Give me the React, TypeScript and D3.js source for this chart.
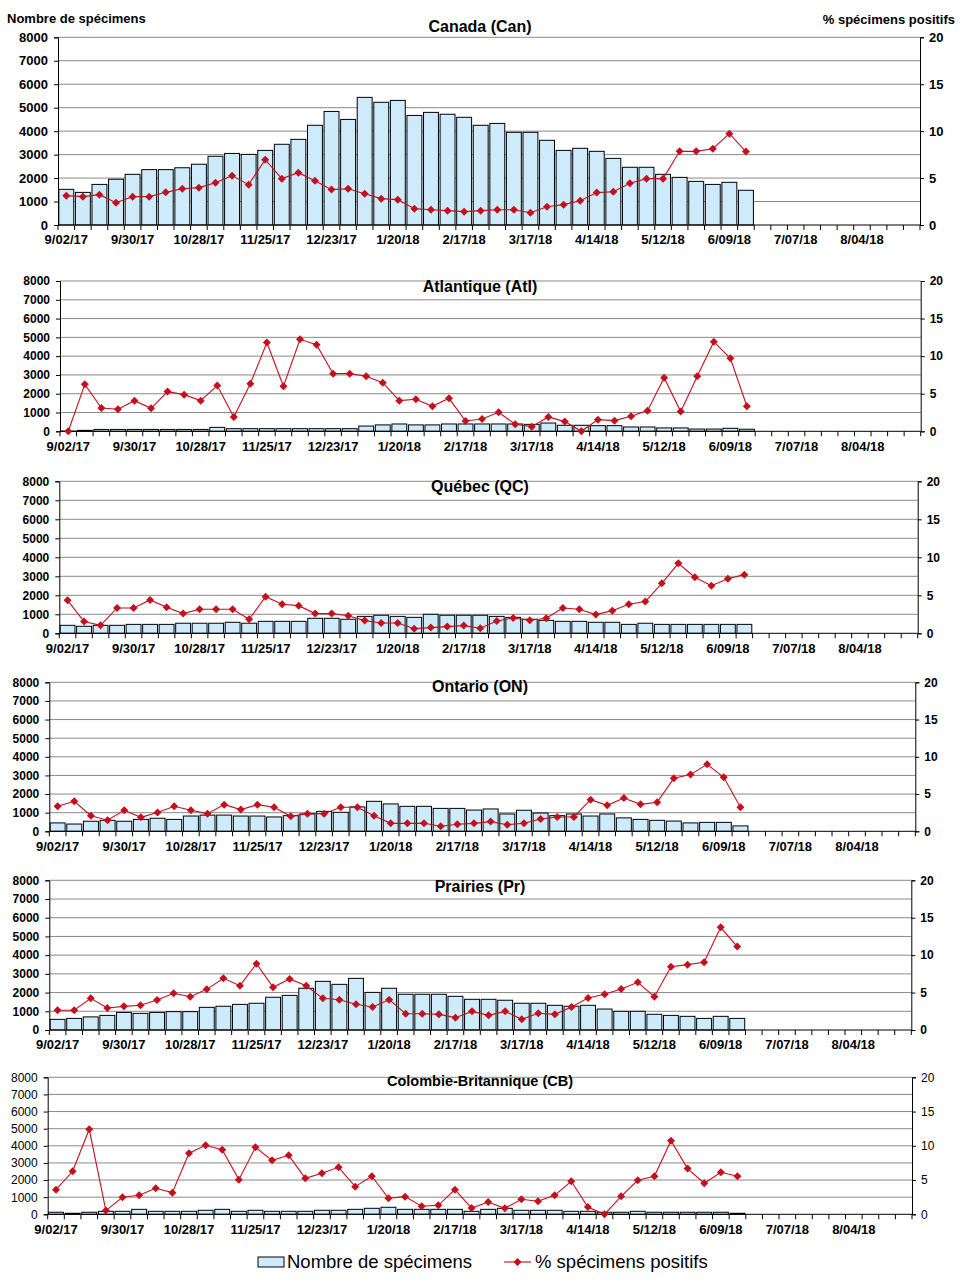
import { useEffect, useRef } from "react";
import * as d3 from "d3";

const weeks = [
  "9/02/17", "9/09/17", "9/16/17", "9/23/17", "9/30/17", "10/07/17", "10/14/17", "10/21/17",
  "10/28/17", "11/04/17", "11/11/17", "11/18/17", "11/25/17", "12/02/17", "12/09/17", "12/16/17",
  "12/23/17", "12/30/17", "1/06/18", "1/13/18", "1/20/18", "1/27/18", "2/03/18", "2/10/18",
  "2/17/18", "2/24/18", "3/03/18", "3/10/18", "3/17/18", "3/24/18", "3/31/18", "4/07/18",
  "4/14/18", "4/21/18", "4/28/18", "5/05/18", "5/12/18", "5/19/18", "5/26/18", "6/02/18",
  "6/09/18", "6/16/18", "6/23/18", "6/30/18", "7/07/18", "7/14/18", "7/21/18", "7/28/18",
  "8/04/18", "8/11/18", "8/18/18", "8/25/18",
];
const tickLabels = weeks.filter((_, i) => i % 4 === 0);
const countTicks = [0, 1000, 2000, 3000, 4000, 5000, 6000, 7000, 8000];
const pctTicks = [0, 5, 10, 15, 20];

const titles = ["Canada (Can)", "Atlantique (Atl)", "Québec (QC)", "Ontario (ON)", "Prairies (Pr)", "Colombie-Britannique (CB)"];

const canCounts = [1520, 1390, 1730, 1950, 2160, 2360, 2360, 2440, 2590, 2930, 3050, 3010, 3180, 3440, 3650, 4250, 4840, 4500, 5440, 5230, 5310, 4670, 4800, 4720, 4590, 4250, 4330, 3950, 3950, 3610, 3180, 3270, 3140, 2840, 2460, 2460, 2160, 2030, 1860, 1730, 1820, 1480];
const canPct = [3.13, 3.02, 3.23, 2.38, 3.02, 3.02, 3.48, 3.87, 3.98, 4.51, 5.26, 4.3, 6.96, 4.94, 5.58, 4.72, 3.77, 3.87, 3.34, 2.81, 2.7, 1.74, 1.63, 1.53, 1.42, 1.53, 1.63, 1.63, 1.31, 1.95, 2.17, 2.59, 3.45, 3.55, 4.44, 4.94, 4.94, 7.85, 7.85, 8.13, 9.73, 7.82];

const atlCounts = [10, 50, 100, 100, 100, 100, 100, 100, 100, 210, 140, 140, 140, 140, 140, 140, 140, 140, 280, 340, 390, 340, 340, 390, 390, 390, 390, 390, 370, 440, 320, 320, 300, 300, 230, 230, 180, 180, 120, 120, 160, 110];
const atlPct = [0, 6.25, 3.1, 2.93, 4.08, 3.06, 5.28, 4.88, 4.08, 6.08, 1.91, 6.34, 11.8, 5.99, 12.24, 11.53, 7.67, 7.67, 7.32, 6.47, 4.08, 4.26, 3.33, 4.39, 1.37, 1.64, 2.53, 0.93, 0.62, 1.91, 1.29, 0, 1.55, 1.42, 2.0, 2.75, 7.14, 2.62, 7.32, 11.93, 9.71, 3.33];

const qcCounts = [420, 370, 420, 420, 470, 470, 470, 530, 530, 530, 580, 530, 630, 630, 630, 790, 790, 740, 890, 950, 890, 840, 1000, 950, 950, 950, 890, 840, 740, 680, 630, 630, 580, 580, 470, 530, 470, 470, 470, 470, 470, 470];
const qcPct = [4.34, 1.54, 1.05, 3.33, 3.33, 4.39, 3.42, 2.59, 3.16, 3.16, 3.16, 1.84, 4.82, 3.82, 3.64, 2.59, 2.59, 2.32, 1.67, 1.36, 1.36, 0.61, 0.75, 0.88, 1.01, 0.66, 1.62, 2.02, 1.71, 1.97, 3.33, 3.16, 2.46, 2.98, 3.82, 4.17, 6.58, 9.21, 7.37, 6.27, 7.19, 7.72];

const onCounts = [450, 390, 540, 590, 540, 640, 700, 640, 820, 870, 870, 820, 820, 770, 840, 930, 1070, 1020, 1310, 1610, 1470, 1340, 1340, 1230, 1230, 1140, 1200, 930, 1130, 980, 840, 930, 820, 930, 720, 640, 590, 550, 450, 480, 480, 290];
const onPct = [3.36, 4.03, 2.1, 1.48, 2.82, 1.88, 2.51, 3.36, 2.82, 2.37, 3.58, 2.91, 3.58, 3.22, 2.01, 2.37, 2.37, 3.22, 3.22, 2.1, 1.07, 1.07, 1.07, 0.67, 0.94, 1.07, 1.3, 0.89, 1.07, 1.66, 1.92, 1.92, 4.25, 3.49, 4.47, 3.62, 3.89, 7.11, 7.61, 8.99, 7.25, 3.22];

const prCounts = [570, 620, 700, 780, 940, 890, 940, 980, 980, 1210, 1270, 1370, 1430, 1750, 1850, 2230, 2600, 2440, 2760, 2010, 2230, 1910, 1910, 1910, 1800, 1640, 1640, 1590, 1430, 1430, 1320, 1270, 1320, 1120, 1000, 1000, 840, 780, 730, 620, 730, 620];
const prPct = [2.63, 2.63, 4.23, 2.94, 3.16, 3.3, 4.01, 4.9, 4.45, 5.43, 6.9, 5.92, 8.86, 5.7, 6.82, 5.92, 4.23, 4.05, 3.43, 3.07, 4.05, 2.18, 2.18, 2.09, 1.65, 2.49, 1.96, 2.49, 1.43, 2.23, 2.09, 3.07, 4.28, 4.77, 5.48, 6.37, 4.45, 8.46, 8.73, 9.04, 13.72, 11.14];

const cbCounts = [120, 60, 120, 175, 175, 290, 175, 175, 175, 235, 290, 175, 235, 175, 175, 175, 235, 235, 290, 350, 410, 290, 290, 290, 290, 175, 290, 350, 235, 235, 235, 175, 175, 120, 120, 175, 120, 120, 120, 120, 120, 60];
const cbPct = [3.6, 6.28, 12.41, 0.54, 2.48, 2.77, 3.8, 3.16, 8.91, 10.07, 9.44, 5.06, 9.78, 7.88, 8.61, 5.26, 5.99, 6.86, 4.04, 5.55, 2.34, 2.58, 1.17, 1.31, 3.6, 0.92, 1.8, 0.88, 2.19, 1.9, 2.77, 4.82, 1.07, 0, 2.63, 4.96, 5.55, 10.75, 6.67, 4.53, 6.13, 5.55];

const allCounts = [canCounts, atlCounts, qcCounts, onCounts, prCounts, cbCounts];
const allPct = [canPct, atlPct, qcPct, onPct, prPct, cbPct];

// panel boxes, in page pixels
const boxes = [
  { l: 58, r: 920, t: 37.3, b: 225, ty: 26, yFont: 13, yWeight: "bold", tFont: 16 },
  { l: 60, r: 920.7, t: 281, b: 431.3, ty: 286, yFont: 12, yWeight: "bold", tFont: 16 },
  { l: 59.3, r: 917.7, t: 481.3, b: 633.3, ty: 486, yFont: 12, yWeight: "bold", tFont: 16 },
  { l: 49.3, r: 915.3, t: 682.3, b: 831.3, ty: 686.5, yFont: 12, yWeight: "bold", tFont: 16 },
  { l: 49.3, r: 911.3, t: 880.3, b: 1030, ty: 886, yFont: 12, yWeight: "bold", tFont: 16 },
  { l: 47.7, r: 912, t: 1077.3, b: 1214.3, ty: 1081, yFont: 12, yWeight: "normal", tFont: 14.5 },
];

const FONT = "'Liberation Sans', Arial, sans-serif";
const BAR = "#cdebfb";
const RED = "#c40f1c";

export default function App() {
  const ref = useRef<SVGSVGElement>(null);

  useEffect(() => {
    if (!ref.current) return;
    const svg = d3.select(ref.current);
    svg.selectAll("*").remove();
    svg.append("rect").attr("width", 961).attr("height", 1284).attr("fill", "#fff");

    const diamond = d3.symbol(d3.symbolSquare, 32);

    boxes.forEach((bx, p) => {
      const counts = allCounts[p];
      const pct = allPct[p];
      const g = svg.append("g");

      const x = d3.scaleBand<string>().domain(weeks).range([bx.l, bx.r]).paddingInner(0.1).paddingOuter(0.05);
      const y = d3.scaleLinear().domain([0, 8000]).range([bx.b, bx.t]);
      const y2 = d3.scaleLinear().domain([0, 20]).range([bx.b, bx.t]);
      const step = x.step();

      // gridlines
      g.append("g")
        .selectAll("line")
        .data(countTicks.slice(1))
        .join("line")
        .attr("x1", bx.l).attr("x2", bx.r)
        .attr("y1", (d) => y(d)).attr("y2", (d) => y(d))
        .attr("stroke", "#8a8a8a").attr("stroke-width", 1);

      // bars
      g.append("g")
        .selectAll("rect")
        .data(counts)
        .join("rect")
        .attr("x", (_, i) => x(weeks[i])!)
        .attr("width", x.bandwidth())
        .attr("y", (d) => y(d))
        .attr("height", (d) => bx.b - y(d))
        .attr("fill", BAR)
        .attr("stroke", "#000")
        .attr("stroke-width", 1);

      // x axis: line, boundary ticks, labels every 4 weeks
      g.append("line")
        .attr("x1", bx.l).attr("x2", bx.r).attr("y1", bx.b).attr("y2", bx.b)
        .attr("stroke", "#000");
      g.append("g")
        .selectAll("line")
        .data(d3.range(weeks.length + 1))
        .join("line")
        .attr("x1", (i) => bx.l + i * step).attr("x2", (i) => bx.l + i * step)
        .attr("y1", bx.b).attr("y2", bx.b + 5)
        .attr("stroke", "#000");
      g.append("g")
        .attr("transform", `translate(0,${bx.b})`)
        .call(d3.axisBottom(x).tickValues(tickLabels).tickSize(0).tickPadding(10))
        .call((s) => s.select(".domain").remove())
        .call((s) => s.selectAll("text").attr("font-family", FONT).attr("font-size", 13).attr("font-weight", "bold").attr("fill", "#000"));

      // left axis
      g.append("g")
        .attr("transform", `translate(${bx.l},0)`)
        .call(d3.axisLeft(y).tickValues(countTicks).tickSize(4).tickPadding(6).tickFormat(d3.format("d")))
        .call((s) => s.select(".domain").attr("stroke", "#000"))
        .call((s) => s.selectAll("text").attr("font-family", FONT).attr("font-size", bx.yFont).attr("font-weight", bx.yWeight).attr("fill", "#000"));

      // right axis
      g.append("g")
        .attr("transform", `translate(${bx.r},0)`)
        .call(d3.axisRight(y2).tickValues(pctTicks).tickSize(4).tickPadding(5).tickFormat(d3.format("d")))
        .call((s) => s.select(".domain").attr("stroke", "#000"))
        .call((s) => s.selectAll("text").attr("font-family", FONT).attr("font-size", bx.yFont).attr("font-weight", bx.yWeight).attr("fill", "#000"));

      // % positive line
      const cx = (i: number) => x(weeks[i])! + x.bandwidth() / 2;
      const line = d3.line<number>().x((_, i) => cx(i)).y((d) => y2(d));
      g.append("path")
        .datum(pct)
        .attr("fill", "none")
        .attr("stroke", RED)
        .attr("stroke-width", 1.1)
        .attr("d", line);
      g.append("g")
        .selectAll("path")
        .data(pct)
        .join("path")
        .attr("d", diamond as any)
        .attr("transform", (d, i) => `translate(${cx(i)},${y2(d)}) rotate(45)`)
        .attr("fill", RED);

      // title
      svg.append("text")
        .attr("x", 480).attr("y", bx.ty).attr("dy", "0.35em")
        .attr("text-anchor", "middle")
        .attr("font-family", FONT).attr("font-size", bx.tFont).attr("font-weight", "bold")
        .text(titles[p]);
    });

    // axis titles
    svg.append("text")
      .attr("x", 7).attr("y", 18).attr("dy", "0.35em")
      .attr("font-family", FONT).attr("font-size", 13).attr("font-weight", "bold")
      .text("Nombre de spécimens");
    svg.append("text")
      .attr("x", 955).attr("y", 19).attr("dy", "0.35em").attr("text-anchor", "end")
      .attr("font-family", FONT).attr("font-size", 13).attr("font-weight", "bold")
      .text("% spécimens positifs");

    // legend
    const lg = svg.append("g").attr("font-family", FONT).attr("font-size", 18.5);
    lg.append("rect").attr("x", 258).attr("y", 1257).attr("width", 26).attr("height", 10)
      .attr("fill", BAR).attr("stroke", "#000");
    lg.append("text").attr("x", 287).attr("y", 1262).attr("dy", "0.35em").text("Nombre de spécimens");
    lg.append("line").attr("x1", 504).attr("x2", 531).attr("y1", 1262).attr("y2", 1262)
      .attr("stroke", RED).attr("stroke-width", 1.1);
    lg.append("path").attr("d", diamond as any).attr("transform", "translate(517.5,1262) rotate(45)").attr("fill", RED);
    lg.append("text").attr("x", 535).attr("y", 1262).attr("dy", "0.35em").text("% spécimens positifs");
  }, []);

  return (
    <svg
      ref={ref}
      width={961}
      height={1284}
      style={{ position: "absolute", left: 0, top: 0, display: "block" }}
    />
  );
}
